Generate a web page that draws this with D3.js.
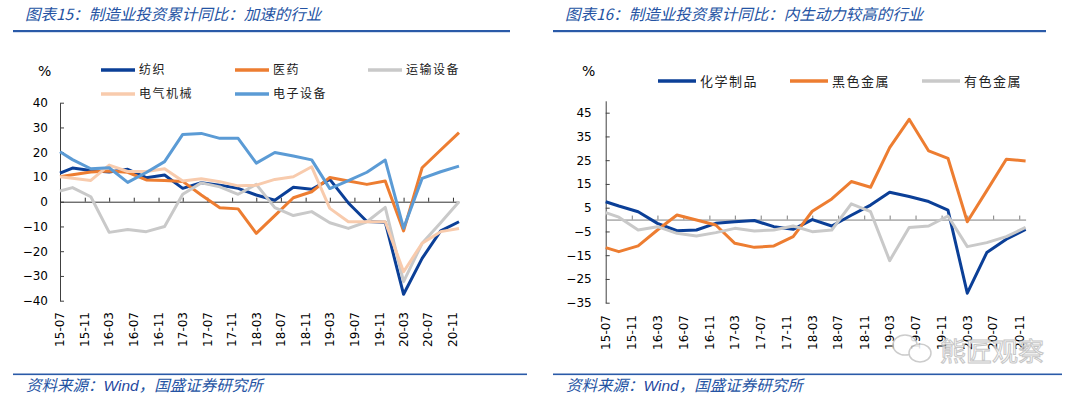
<!DOCTYPE html>
<html>
  <head>
    <meta http-equiv="Content-Type" content="text/html; charset=utf-8" />
    <script src="https://d3js.org/d3.v7.min.js"></script>
    <style>
      body { margin: 0; background: #fff; }
      svg text { font-family: 'DejaVu Sans', sans-serif; }
      .cjk { font-family: 'Noto Sans CJK SC', sans-serif; }
      .title { font-family: 'Noto Sans CJK SC', sans-serif; font-style: italic; fill: #2453a3; }
    </style>
  </head>
  <body>
    <div id="wrapper"></div>
    <script>

const W = 1080, H = 397

// dates of the data points (month ends), shared by both charts
const months = ["2015-07","2015-09","2015-12","2016-03","2016-06","2016-09","2016-12",
  "2017-03","2017-06","2017-09","2017-12","2018-03","2018-06","2018-09","2018-12",
  "2019-03","2019-06","2019-09","2019-12","2020-03","2020-06","2020-09","2020-12"]
const xTickLabels = ["15-07","15-11","16-03","16-07","16-11","17-03","17-07","17-11","18-03",
  "18-07","18-11","19-03","19-07","19-11","20-03","20-07","20-11"]

// chart 15
const fangzhi  = [11.5,13.6,12.6,12.0,13.1,9.7,10.8,5.4,7.7,6.7,5.4,2.7,0.6,5.8,5.0,9.0,-0.5,-8.0,-8.3,-37.4,-22.9,-11.8,-8.1]
const yiyao    = [10.1,10.9,12.0,12.4,11.9,8.8,8.6,8.2,2.7,-2.4,-2.9,-12.8,-5.6,1.6,4.0,9.8,8.4,7.0,8.4,-11.8,13.7,20.9,27.9]
const yunshu   = [4.3,5.7,2.0,-12.4,-11.2,-12.1,-10.0,3.0,7.6,6.0,3.0,7.0,-2.4,-5.6,-4.0,-8.5,-10.8,-8.1,-2.3,-32.3,-16.8,-8.5,0.0]
const dianqi   = [10.1,9.5,8.6,14.8,12.2,12.2,13.3,8.4,9.3,8.1,6.4,6.7,9.0,10.1,14.1,-2.7,-8.1,-8.1,-8.1,-28.3,-16.8,-12.1,-10.8]
const dianzi   = [20.2,17.0,13.3,13.7,7.8,11.8,16.2,27.2,27.6,25.6,25.6,15.6,19.9,18.5,16.9,5.3,8.5,11.9,16.8,-10.7,9.4,12.1,14.4]
const yTicks15 = [-40,-30,-20,-10,0,10,20,30,40]

// chart 16
const huaxue   = [7.5,5.7,3.3,-1.6,-4.7,-4.4,-1.6,-0.9,-0.4,-3.0,-4.1,0.0,-2.7,1.8,6.1,11.5,9.7,7.6,4.0,-31.0,-13.9,-8.3,-4.1]
const heise    = [-11.8,-13.5,-11.1,-4.4,1.9,-0.2,-2.3,-10.0,-11.7,-11.1,-7.2,3.5,8.7,16.0,13.6,30.3,42.2,28.9,25.8,-0.9,12.2,25.4,24.7]
const youse    = [2.9,1.0,-4.4,-3.0,-5.8,-6.9,-5.5,-3.7,-4.8,-4.4,-2.7,-5.1,-4.4,6.6,3.3,-17.3,-3.3,-2.7,1.5,-11.4,-9.7,-7.2,-3.3]
const yTicks16 = [-35,-25,-15,-5,5,15,25,35,45]

const parseM = d3.timeParse("%Y-%m")
const parseTick = d3.timeParse("%y-%m")
const dates = months.map(parseM)

const svg = d3.select("#wrapper").append("svg")
  .attr("width", W)
  .attr("height", H)

function drawPanel(p) {
  const g = svg.append("g")

  // title + rules
  g.append("text").attr("class","title")
    .attr("x", p.titleX).attr("y", 19.5)
    .style("font-size","15.5px")
    .text(p.title)
  g.append("rect").attr("x", p.ruleX0).attr("y", 30).attr("width", p.ruleX1 - p.ruleX0).attr("height", 2.2).attr("fill", "#2a5aa8")
  g.append("rect").attr("x", p.footX0).attr("y", 373.5).attr("width", p.footX1 - p.footX0).attr("height", 1.6).attr("fill", "#2a5aa8")
  const foot = g.append("text").attr("class","title")
    .attr("x", p.footTextX).attr("y", 391)
    .style("font-size","15.5px")
  foot.append("tspan").text("资料来源：")
  foot.append("tspan").style("font-family","'Liberation Sans', sans-serif").attr("fill","#1f48a0").text("Wind")
  foot.append("tspan").text("，国盛证券研究所")

  const x = d3.scaleTime().domain([parseM("2015-07"), parseM("2020-12")]).range(p.xRange)
  const y = d3.scaleLinear().domain(p.yDomain).range(p.yRange)

  // y axis, ticks pointing inside
  const yAxis = g.append("g")
    .attr("transform", `translate(${p.xRange[0]},0)`)
    .call(d3.axisLeft(y).tickValues(p.yTicks).tickSize(-4).tickSizeOuter(0).tickPadding(p.yPad))
  yAxis.selectAll("line, path").attr("stroke", "#404040")
  yAxis.selectAll("text").style("font-size","12px").attr("fill","#000")

  // x axis sits on zero
  const xAxis = g.append("g")
    .attr("transform", `translate(0,${y(0)})`)
    .call(d3.axisBottom(x).tickValues(xTickLabels.map(parseTick)).tickSize(-4).tickSizeOuter(0))
  xAxis.selectAll("text").remove()
  xAxis.selectAll("line, path").attr("stroke", p.zeroColor)

  g.selectAll(".xlab")
    .data(xTickLabels)
    .enter().append("text")
    .attr("transform", d => `translate(${x(parseTick(d))},${p.labelTop}) rotate(-90)`)
    .attr("text-anchor","end")
    .attr("dy","0.36em")
    .style("font-size","12px")
    .text(d => d)

  g.append("text")
    .attr("x", p.pctX).attr("y", p.pctY)
    .style("font-size","14px")
    .text("%")

  const line = d3.line()
    .x((d, i) => x(dates[i]))
    .y(d => y(d))

  p.series.forEach(s => {
    g.append("path")
      .datum(s.values)
      .attr("d", line)
      .attr("fill","none")
      .attr("stroke", s.color)
      .attr("stroke-width", 3)
      .attr("stroke-linejoin","round")

    // legend
    g.append("line")
      .attr("x1", s.lx).attr("x2", s.lx + p.legLen)
      .attr("y1", s.ly).attr("y2", s.ly)
      .attr("stroke", s.color).attr("stroke-width", 3.5)
    g.append("text").attr("class","cjk")
      .attr("x", s.lx + p.legLen + 4).attr("y", s.ly)
      .attr("dy","0.36em")
      .style("font-size", p.legFont + "px")
      .style("letter-spacing", "1.5px")
      .attr("fill","#222")
      .text(s.name)
  })
}

drawPanel({
  title: "图表15：制造业投资累计同比：加速的行业",
  titleX: 25, ruleX0: 13, ruleX1: 510,
  footX0: 13, footX1: 527, footTextX: 26,
  xRange: [60, 459], yDomain: [-40, 40], yRange: [300.7, 102.7],
  yTicks: yTicks15, yPad: 12, zeroColor: "#303030",
  labelTop: 312, pctX: 38, pctY: 76,
  legLen: 34, legFont: 12,
  series: [
    {name: "纺织", values: fangzhi, color: "#0b3f97", lx: 101, ly: 70},
    {name: "医药", values: yiyao, color: "#ed7d31", lx: 235, ly: 70},
    {name: "运输设备", values: yunshu, color: "#c9c9c9", lx: 368, ly: 70},
    {name: "电气机械", values: dianqi, color: "#f8cbad", lx: 101, ly: 94},
    {name: "电子设备", values: dianzi, color: "#5b9bd5", lx: 235, ly: 94}
  ]
})

drawPanel({
  title: "图表16：制造业投资累计同比：内生动力较高的行业",
  titleX: 565, ruleX0: 553, ruleX1: 1046,
  footX0: 553, footX1: 1062, footTextX: 566,
  xRange: [605.7, 1025.6], yDomain: [-35, 50], yRange: [302.7, 100.8],
  yTicks: yTicks16, yPad: 14, zeroColor: "#7f7f7f",
  labelTop: 315, pctX: 582, pctY: 76,
  legLen: 38, legFont: 13,
  series: [
    {name: "化学制品", values: huaxue, color: "#0b3f97", lx: 658, ly: 81},
    {name: "黑色金属", values: heise, color: "#ed7d31", lx: 790, ly: 81},
    {name: "有色金属", values: youse, color: "#c9c9c9", lx: 922, ly: 81}
  ]
})

// watermark, bottom right
const wm = svg.append("g").attr("opacity", 0.85)
wm.append("ellipse").attr("cx", 905).attr("cy", 345).attr("rx", 12).attr("ry", 10)
  .attr("fill","#fff").attr("stroke","#c4c4c4").attr("stroke-width",1.5)
wm.append("ellipse").attr("cx", 920).attr("cy", 353).attr("rx", 11).attr("ry", 9)
  .attr("fill","#fff").attr("stroke","#c4c4c4").attr("stroke-width",1.5)
wm.append("text").attr("class","cjk")
  .attr("x", 940).attr("y", 361)
  .style("font-size","26px")
  .attr("fill","#fff").attr("stroke","#bdbdbd").attr("stroke-width",1)
  .text("熊匠观察")

    </script>
  </body>
</html>
